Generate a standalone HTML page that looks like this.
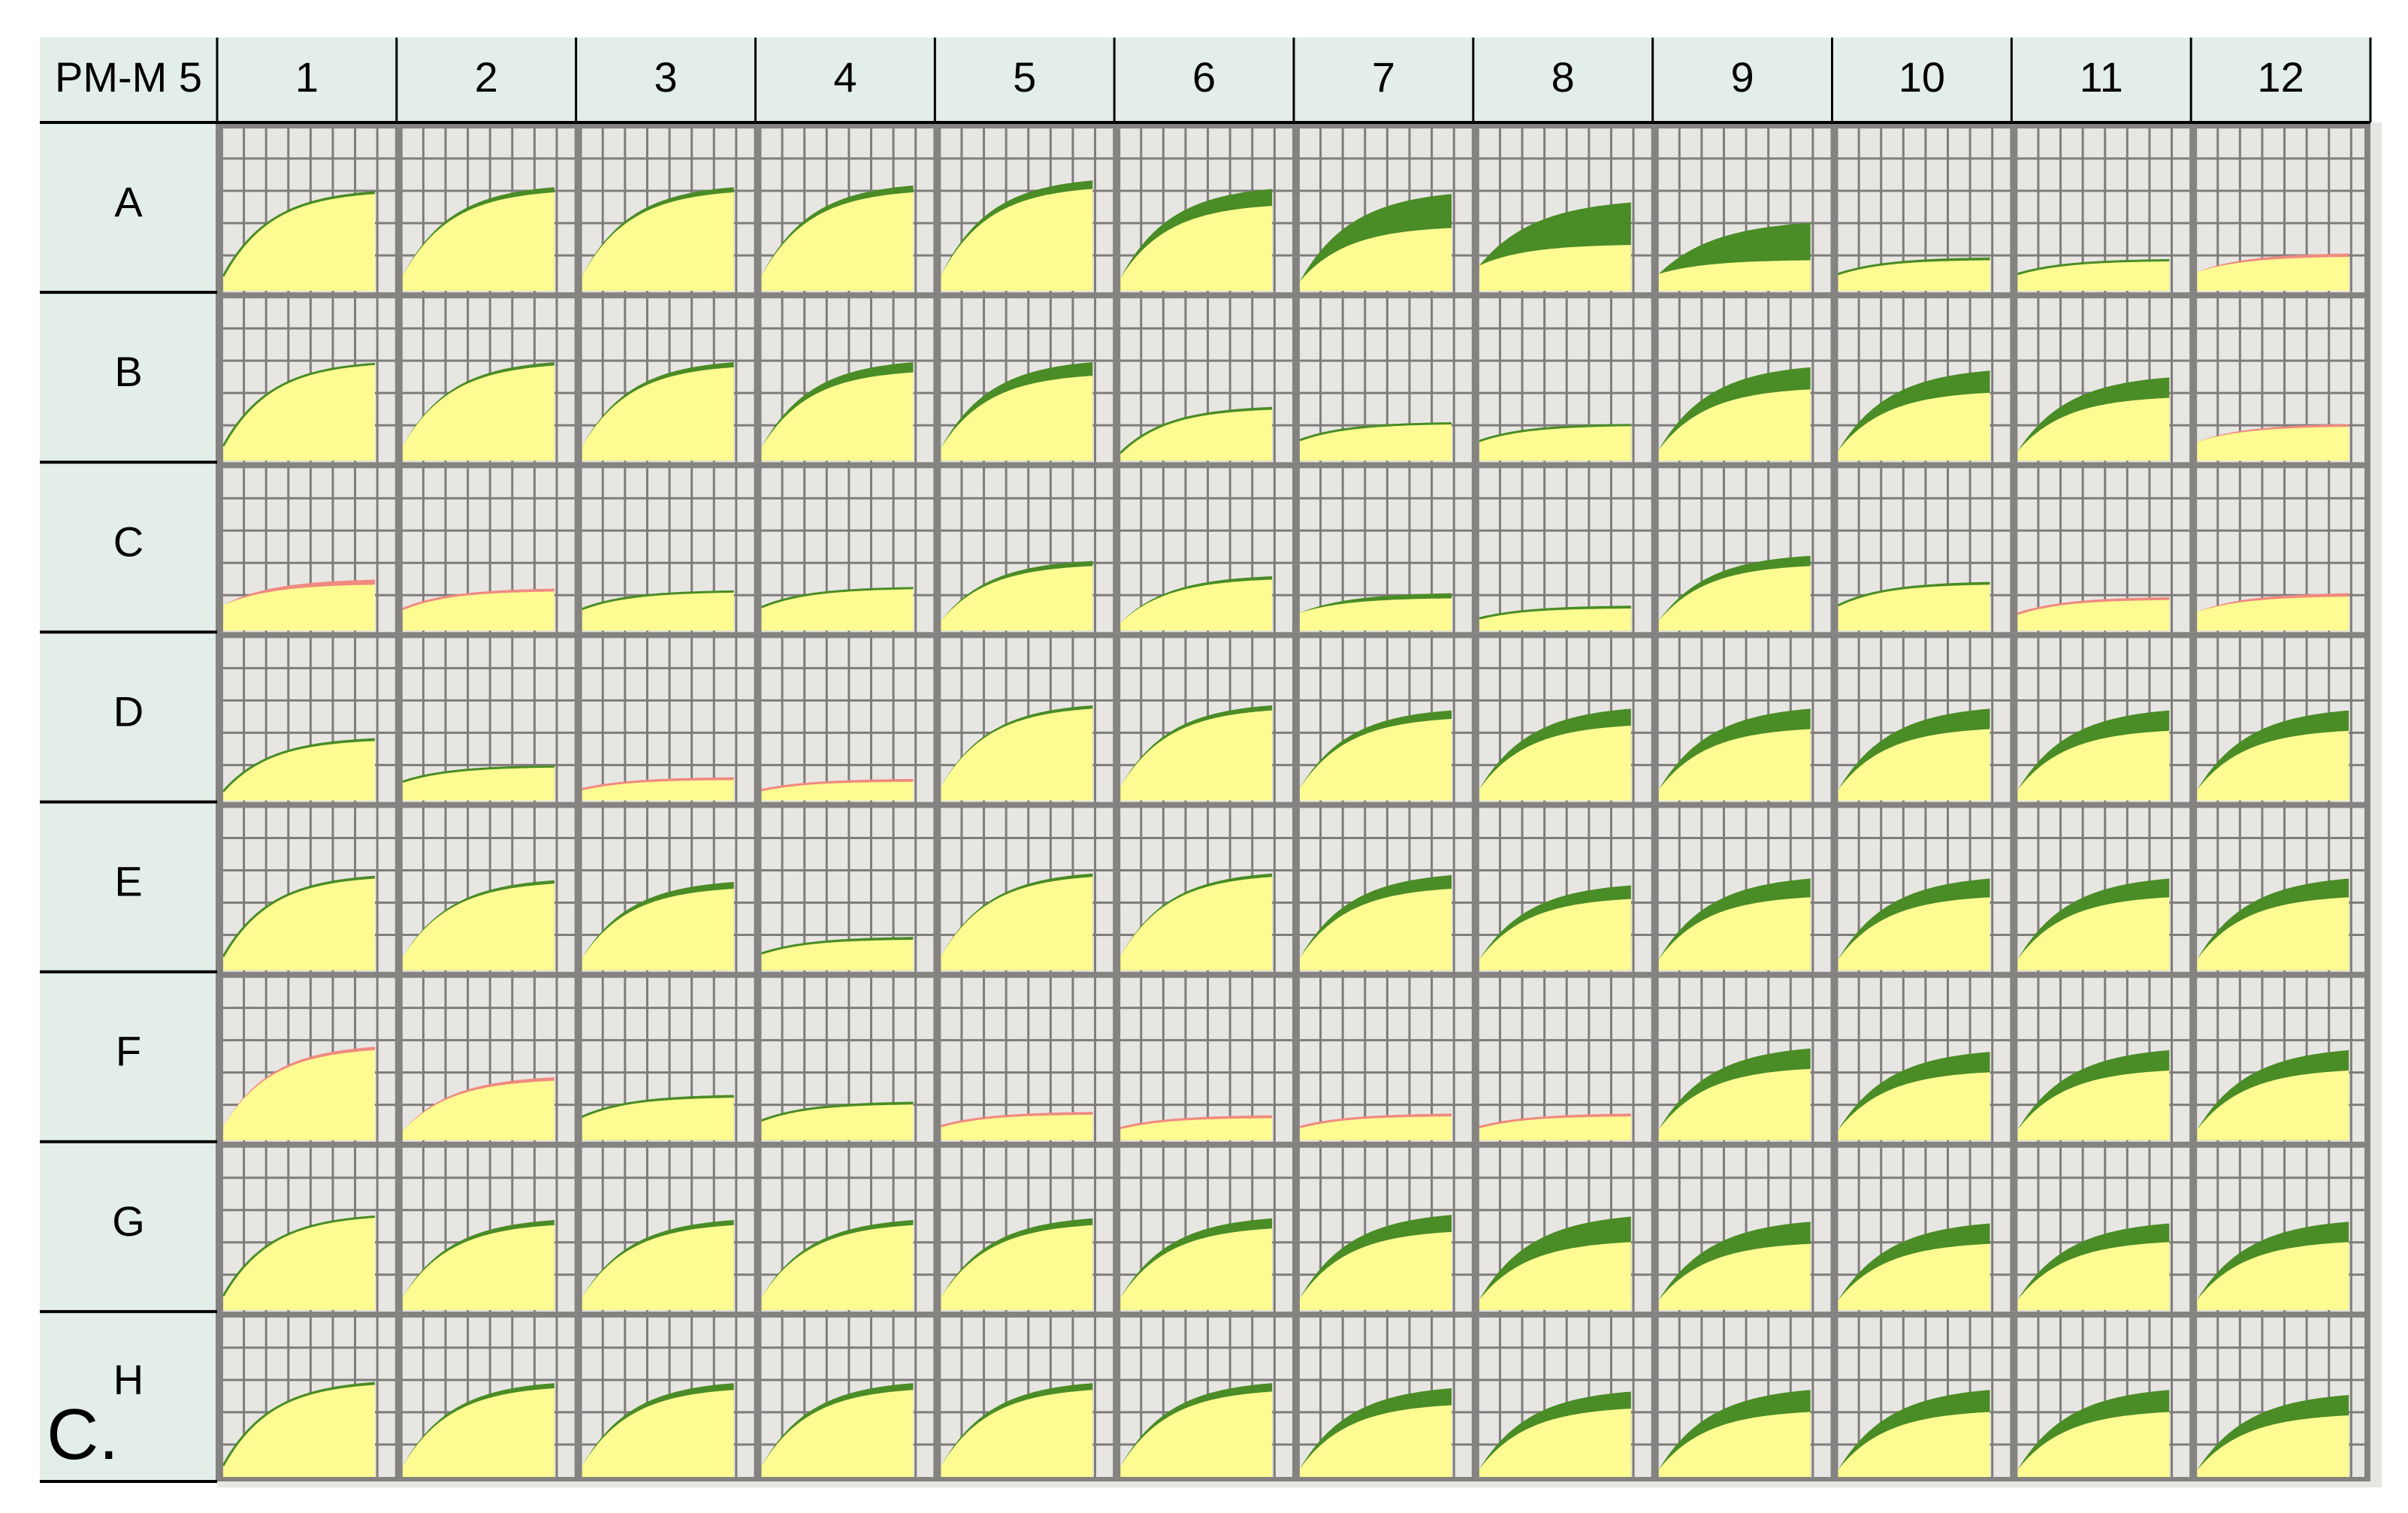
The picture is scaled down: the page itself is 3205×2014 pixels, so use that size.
<!DOCTYPE html>
<html><head><meta charset="utf-8"><style>
html,body{margin:0;padding:0;background:#fff;}
svg{display:block;}
text{font-family:"Liberation Sans",sans-serif;}
</style></head><body>
<svg id="plate" width="3205" height="2014" viewBox="0 0 3205 2014" xmlns="http://www.w3.org/2000/svg"></svg>
<script>
const rowLabels = ["A","B","C","D","E","F","G","H"];
const colLabels = ["1","2","3","4","5","6","7","8","9","10","11","12"];
// final base (yellow) curve height, fraction of well height
const baseA = [0.57,0.58,0.58,0.58,0.6,0.5,0.37,0.27,0.18,0.18,0.18,0.2];
const baseB = [0.57,0.56,0.55,0.52,0.5,0.3,0.22,0.21,0.42,0.4,0.37,0.2];
const baseC = [0.27,0.23,0.23,0.25,0.38,0.3,0.19,0.13,0.38,0.27,0.18,0.2];
const baseD = [0.35,0.2,0.12,0.11,0.54,0.53,0.48,0.44,0.42,0.42,0.41,0.41];
const baseE = [0.54,0.51,0.48,0.18,0.55,0.55,0.48,0.42,0.43,0.43,0.43,0.43];
const baseF = [0.53,0.35,0.25,0.21,0.15,0.13,0.14,0.14,0.42,0.4,0.41,0.41];
const baseG = [0.55,0.5,0.5,0.5,0.5,0.48,0.46,0.4,0.39,0.39,0.4,0.4];
const baseH = [0.56,0.54,0.53,0.53,0.53,0.52,0.44,0.42,0.4,0.4,0.4,0.38];
// extra green band above base (fraction)
const greenA = [0.01,0.03,0.03,0.04,0.05,0.1,0.2,0.25,0.22,0.01,0,0];
const greenB = [0,0.02,0.03,0.06,0.08,0.01,0,0,0.13,0.13,0.12,0];
const greenC = [0,0,0,0,0.03,0.02,0.03,0.01,0.06,0.01,0,0];
const greenD = [0.01,0,0,0,0.02,0.03,0.05,0.1,0.12,0.12,0.12,0.12];
const greenE = [0.01,0.02,0.04,0.01,0.02,0.02,0.08,0.08,0.11,0.11,0.11,0.11];
const greenF = [0,0,0.01,0.01,0,0,0,0,0.12,0.12,0.12,0.12];
const greenG = [0,0.03,0.03,0.03,0.04,0.06,0.1,0.15,0.13,0.12,0.11,0.12];
const greenH = [0.01,0.03,0.04,0.04,0.04,0.05,0.1,0.1,0.13,0.13,0.13,0.12];
// extra red band (fraction)
const redA = [0,0,0,0,0,0,0,0,0,0,0,0.02];
const redB = [0,0,0,0,0,0,0,0,0,0,0,0.015];
const redC = [0.03,0.01,0,0,0,0,0,0,0,0,0.01,0.02];
const redD = [0,0,0.01,0.01,0,0,0,0,0,0,0,0];
const redE = [0,0,0,0,0,0,0,0,0,0,0,0];
const redF = [0.02,0.02,0,0,0.01,0.01,0.01,0.01,0,0,0,0];
const redG = [0,0,0,0,0,0,0,0,0,0,0,0];
const redH = [0,0,0,0,0,0,0,0,0,0,0,0];

const baseRows=[baseA,baseB,baseC,baseD,baseE,baseF,baseG,baseH];
const greenRows=[greenA,greenB,greenC,greenD,greenE,greenF,greenG,greenH];
const redRows=[redA,redB,redC,redD,redE,redF,redG,redH];

const NS="http://www.w3.org/2000/svg";
const svg=document.getElementById('plate');
function mk(tag,attrs,parent){const e=document.createElementNS(NS,tag);for(const k in attrs)e.setAttribute(k,attrs[k]);(parent||svg).appendChild(e);return e;}

const L=53,T=50,LC=289,R=3155,HB=163,B=1972;
const CW=(R-LC)/12, RH=(B-HB)/8;
const xCol=c=>LC+c*CW, yRow=r=>HB+r*RH;

let bg=mk('rect',{x:LC,y:HB,width:R-LC+15,height:B-HB+8,fill:'#e8e6e3'});


let hdr=mk('rect',{x:L,y:T,width:R-L,height:HB-T,fill:'#e2eee7'});


let lc=mk('rect',{x:L,y:HB,width:LC-L,height:B-HB,fill:'#e2eee7'});



const N=60;
function gBase(t,base){const s=base<0.3?0.55:0.15;return s+(1-s)*(1-Math.exp(-3.2*t))/(1-Math.exp(-3.2));}
const gBand=t=>(1-Math.exp(-2.5*t))/(1-Math.exp(-2.5));

for(let r=0;r<8;r++){
  for(let c=0;c<12;c++){
    const x0=xCol(c), y0=yRow(r), x1=x0+CW, y1=y0+RH;
    const g=mk('g',{});
    
    
    for(let i=1;i<8;i++){const x=x0+6+i*29.6;mk('line',{x1:x,x2:x,y1:y0,y2:y1,stroke:'#7f7d7b','stroke-width':3},g);}
    for(let j=1;j<5;j++){const y=y0+5+j*43;mk('line',{x1:x0,x2:x1,y1:y,y2:y,stroke:'#7f7d7b','stroke-width':3},g);}
    const px0=x0+8, px1=x0+210, yb=y1-2;
    const base=baseRows[r][c], gr=greenRows[r][c], rd=redRows[r][c];
    const X=t=>px0+t*(px1-px0);
    let top=[],mid=[];
    for(let i=0;i<=N;i++){const t=i/N;mid.push([X(t),yb-RH*base*gBase(t,base)]);top.push([X(t),yb-RH*(base*gBase(t,base)+(gr+rd)*gBand(t))]);}
    let dTop='M'+px0+','+yb+' '+top.map(p=>'L'+p[0].toFixed(1)+','+p[1].toFixed(1)).join(' ')+' L'+px1+','+yb+' Z';
    let band=mk('path',{d:dTop,fill:rd>0?'#f08a80':'#4a8c26'},g);
    
    
    let dMid='M'+px0+','+yb+' '+mid.map(p=>'L'+p[0].toFixed(1)+','+p[1].toFixed(1)).join(' ')+' L'+px1+','+yb+' Z';
    let yel=mk('path',{d:dMid,fill:'#fdfb92'},g);
    
    
    if(gr+rd<0.015){mk('polyline',{points:top.map(p=>p.join(',')).join(' '),fill:'none',stroke:rd>0?'#f08a80':'#4a8c26','stroke-width':3},g);}
    mk('line',{x1:x0+5,x2:x0+5,y1:yb,y2:yb-95,stroke:'#5a1040','stroke-width':3},g);
    mk('rect',{x:x0-2,y:y0,width:10,height:RH,fill:'#858381'},g);
    mk('rect',{x:x0,y:y0,width:CW,height:8,fill:'#858381'},g);
  }
}
let rb=mk('rect',{x:R-8,y:HB,width:8,height:B-HB,fill:'#858381'});


mk('rect',{x:LC,y:B-6,width:R-LC,height:6,fill:'#858381'});

mk('line',{x1:L,x2:R,y1:HB,y2:HB,stroke:'#000','stroke-width':4});
for(let c=0;c<=12;c++){mk('line',{x1:xCol(c),x2:xCol(c),y1:T,y2:HB,stroke:'#000','stroke-width':3});}
for(let r=1;r<=8;r++){mk('line',{x1:L,x2:LC,y1:yRow(r),y2:yRow(r),stroke:'#000','stroke-width':4});}

let t0=mk('text',{x:(L+LC)/2,y:122,'font-size':56,'text-anchor':'middle',fill:'#000'});
t0.textContent='PM-M 5';


for(let c=0;c<12;c++){
  let t=mk('text',{x:xCol(c)+CW/2,y:122,'font-size':56,'text-anchor':'middle',fill:'#000'});
  t.textContent=colLabels[c];
  
  
}
for(let r=0;r<8;r++){
  const yy = r===7 ? yRow(r)+110 : yRow(r)+RH/2+12;
  let t=mk('text',{x:(L+LC)/2,y:yy,'font-size':56,'text-anchor':'middle',fill:'#000'});
  t.textContent=rowLabels[r];
  
  
}
let pl=mk('text',{x:62,y:1942,'font-size':96,fill:'#000'});
pl.textContent='C.';


</script>
</body></html>
